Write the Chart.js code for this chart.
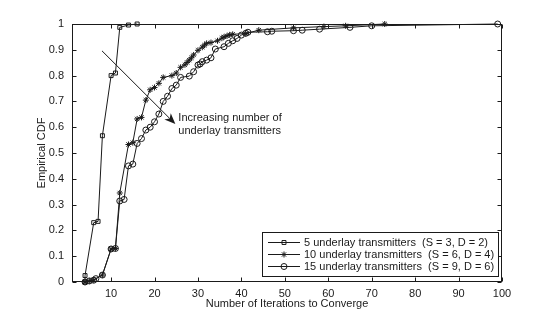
<!DOCTYPE html>
<html><head><meta charset="utf-8">
<script src="https://cdn.jsdelivr.net/npm/chart.js@4/dist/chart.umd.min.js"></script>
<style>html,body{margin:0;padding:0;background:#fff}</style>
</head><body>
<canvas id="c" width="554" height="317" style="width:554px;height:317px"></canvas>
<script>
// ---- data ----
const xTicks = [10, 20, 30, 40, 50, 60, 70, 80, 90, 100];
const xTickLabels = ['10', '20', '30', '40', '50', '60', '70', '80', '90', '100'];
const yTicks = [0, 0.1, 0.2, 0.3, 0.4, 0.5, 0.6, 0.7, 0.8, 0.9, 1];
const yTickLabels = ['0', '0.1', '0.2', '0.3', '0.4', '0.5', '0.6', '0.7', '0.8', '0.9', '1'];

const seriesNames = [
  '5 underlay transmitters  (S = 3, D = 2)',
  '10 underlay transmitters  (S = 6, D = 4)',
  '15 underlay transmitters  (S = 9, D = 6)'
];

const s5x = [4, 4, 6, 7, 8, 10, 11, 12, 14, 16];
const s5y = [0, 0.025, 0.23, 0.235, 0.567, 0.80, 0.81, 0.987, 0.996, 1.0];

const s10x = [4, 5, 6, 8, 10, 11, 12, 14, 15, 16, 17, 18, 19, 20, 21, 22, 24, 25, 26, 27, 27.5, 28, 28.5, 29, 30, 31, 31.5, 32, 33, 34.5, 35.5, 36, 36.7, 37.3, 38, 41, 44, 52, 59, 64, 73];
const s10y = [0, 0.004, 0.008, 0.027, 0.128, 0.13, 0.345, 0.533, 0.54, 0.632, 0.638, 0.705, 0.745, 0.754, 0.77, 0.793, 0.80, 0.81, 0.832, 0.842, 0.851, 0.86, 0.869, 0.88, 0.898, 0.91, 0.918, 0.925, 0.928, 0.935, 0.945, 0.95, 0.954, 0.958, 0.96, 0.963, 0.976, 0.985, 0.99, 0.993, 1.0];

const s15x = [4, 5, 6, 6.5, 8, 10, 11, 12, 13, 14, 15, 16, 17, 18, 19, 20, 21, 22, 23, 24, 25, 26, 28, 29, 30, 30.5, 31, 32, 33, 34, 36, 37, 38, 39, 40, 41, 41.5, 46, 47, 52, 54, 58, 65, 70, 99];
const s15y = [0, 0.004, 0.007, 0.013, 0.027, 0.128, 0.13, 0.314, 0.32, 0.45, 0.457, 0.537, 0.556, 0.589, 0.60, 0.621, 0.651, 0.70, 0.72, 0.75, 0.763, 0.793, 0.798, 0.815, 0.841, 0.845, 0.854, 0.86, 0.869, 0.903, 0.912, 0.925, 0.935, 0.944, 0.957, 0.964, 0.968, 0.97, 0.972, 0.974, 0.976, 0.98, 0.987, 0.993, 1.0];

const annotationText = ['Increasing number of', 'underlay transmitters'];
const arrowFrom = [7.9, 0.896];
const arrowTo = [24.8, 0.612];

// ---- build ----
const FONT = '"Liberation Sans", Arial, Helvetica, sans-serif';
const INK = '#1a1a1a';
const pts = (xs, ys) => xs.map((v, i) => ({x: v, y: ys[i]}));
const styles = ['rect', 'star', 'circle'];
const radii = [2.8, 3, 3];

const datasets = [pts(s5x, s5y), pts(s10x, s10y), pts(s15x, s15y)].map((d, i) => ({
  label: seriesNames[i],
  data: d,
  showLine: true,
  tension: 0,
  borderColor: INK,
  borderWidth: 1,
  pointStyle: styles[i],
  pointRadius: radii[i],
  pointBorderWidth: 1,
  pointBorderColor: INK,
  pointBackgroundColor: 'rgba(255,255,255,0)',
  clip: false
}));

const deco = {
  id: 'deco',
  afterDraw(chart) {
    const {ctx, chartArea: a, scales: {x, y}} = chart;
    ctx.save();
    ctx.strokeStyle = INK;
    ctx.lineWidth = 1;
    const L = Math.round(a.left) + 0.5, R = Math.round(a.right) - 0.5;
    const T = Math.round(a.top) + 0.5, B = Math.round(a.bottom) - 0.5;
    ctx.strokeRect(L, T, R - L, B - T);
    const TL = 4;
    ctx.beginPath();
    xTicks.forEach(v => {
      const px = Math.round(x.getPixelForValue(v)) + 0.5;
      ctx.moveTo(px, B); ctx.lineTo(px, B - TL);
      ctx.moveTo(px, T); ctx.lineTo(px, T + TL);
    });
    yTicks.forEach(v => {
      const py = Math.round(y.getPixelForValue(v)) + 0.5;
      ctx.moveTo(L, py); ctx.lineTo(L + TL, py);
      ctx.moveTo(R, py); ctx.lineTo(R - TL, py);
    });
    ctx.stroke();

    // annotation arrow
    const x0 = x.getPixelForValue(arrowFrom[0]), y0 = y.getPixelForValue(arrowFrom[1]);
    const x1 = x.getPixelForValue(arrowTo[0]), y1 = y.getPixelForValue(arrowTo[1]);
    const ang = Math.atan2(y1 - y0, x1 - x0);
    const hl = 11, hw = 4.5;
    const bx = x1 - hl * Math.cos(ang), by = y1 - hl * Math.sin(ang);
    ctx.beginPath();
    ctx.moveTo(x0, y0);
    ctx.lineTo(bx + 3 * Math.cos(ang), by + 3 * Math.sin(ang));
    ctx.stroke();
    const nx = -Math.sin(ang), ny = Math.cos(ang);
    ctx.fillStyle = INK;
    ctx.beginPath();
    ctx.moveTo(x1, y1);
    ctx.lineTo(bx + nx * hw, by + ny * hw);
    ctx.lineTo(bx + 3 * Math.cos(ang), by + 3 * Math.sin(ang));
    ctx.lineTo(bx - nx * hw, by - ny * hw);
    ctx.closePath();
    ctx.fill();

    ctx.font = '11px ' + FONT;
    ctx.textBaseline = 'middle';
    ctx.textAlign = 'left';
    ctx.fillText(annotationText[0], x1 + 3, y1 - 6);
    ctx.fillText(annotationText[1], x1 + 3, y1 + 7);

    // legend
    const lx0 = 262.5, lx1 = 498.5, ly0 = 232.5, ly1 = 276.5;
    ctx.fillStyle = '#fff';
    ctx.fillRect(lx0, ly0, lx1 - lx0, ly1 - ly0);
    ctx.strokeRect(lx0, ly0, lx1 - lx0, ly1 - ly0);
    const rowY = [242.5, 254.5, 266.5];
    chart.data.datasets.forEach((ds, i) => {
      const ry = rowY[i];
      ctx.beginPath();
      ctx.moveTo(268, ry); ctx.lineTo(300, ry);
      ctx.stroke();
      ctx.fillStyle = 'rgba(255,255,255,0)';
      Chart.helpers.drawPoint(ctx, {pointStyle: ds.pointStyle, radius: ds.pointRadius, borderWidth: 1, rotation: 0}, 284, ry);
      ctx.fillStyle = INK;
      ctx.fillText(ds.label, 304, ry);
    });
    ctx.restore();
  }
};

new Chart(document.getElementById('c'), {
  type: 'scatter',
  data: {datasets},
  options: {
    responsive: false,
    animation: false,
    devicePixelRatio: 1,
    layout: {padding: {left: 0, right: 52, top: 24, bottom: 0}},
    plugins: {legend: {display: false}, tooltip: {enabled: false}},
    scales: {
      x: {
        type: 'linear', min: 1, max: 100,
        grid: {display: false, drawTicks: false, tickLength: 0}, border: {display: false},
        afterBuildTicks: s => { s.ticks = xTicks.map(v => ({value: v})); },
        afterFit: s => { s.height = 35; },
        ticks: {callback: (v, i) => xTickLabels[i], color: INK, font: {family: FONT, size: 11}, padding: 5, maxRotation: 0, autoSkip: false},
        title: {display: true, text: 'Number of Iterations to Converge', color: INK, font: {family: FONT, size: 11}, padding: {top: 0, bottom: 6}}
      },
      y: {
        type: 'linear', min: 0, max: 1,
        grid: {display: false, drawTicks: false, tickLength: 0}, border: {display: false},
        afterBuildTicks: s => { s.ticks = yTicks.map(v => ({value: v})); },
        afterFit: s => { s.width = 72; },
        ticks: {callback: (v, i) => yTickLabels[i], color: INK, font: {family: FONT, size: 11}, padding: 8, autoSkip: false},
        title: {display: true, text: 'Empirical CDF', color: INK, font: {family: FONT, size: 11}, padding: {top: 35, bottom: 0}}
      }
    }
  },
  plugins: [deco]
});
</script>
</body></html>
